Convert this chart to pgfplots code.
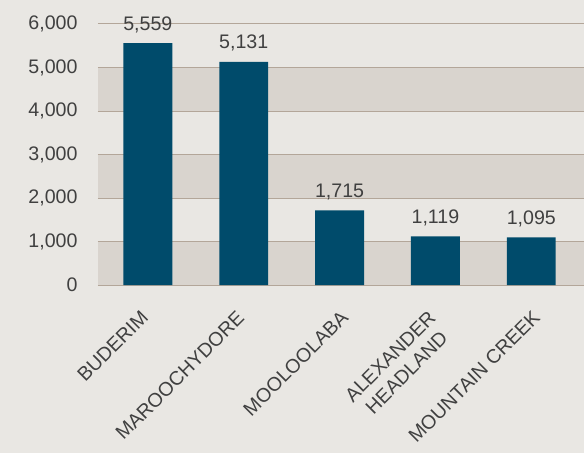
\documentclass[border=0pt]{standalone}
\usepackage{fontspec}
\setmainfont{Liberation Sans}
\usepackage{pgfplots}
\pgfplotsset{compat=1.18}
\usetikzlibrary{backgrounds,calc}
\definecolor{bgc}{HTML}{E9E7E3}
\definecolor{bandc}{HTML}{D9D4CE}
\definecolor{gridc}{HTML}{B3A699}
\definecolor{barc}{HTML}{004B6B}
\definecolor{txtc}{HTML}{404040}
\newcommand\labfont{\fontsize{19.6bp}{23bp}\selectfont}
\begin{document}
\begin{tikzpicture}
\begin{axis}[
    name=ax,
    scale only axis,
    width=486bp, height=261bp,
    xmin=-0.52, xmax=4.55,
    ymin=0, ymax=6000,
    clip=false,
    axis line style={draw=none},
    tick style={draw=none},
    xtick={0,1,3},
    xticklabels={BUDERIM,MAROOCHYDORE,{ALEXANDER\\HEADLAND}},
    extra x ticks={2,4},
    extra x tick labels={MOOLOOLABA,MOUNTAIN CREEK},
    extra x tick style={xticklabel style={xshift=5.7bp, yshift=-5.7bp}},
    ytick={0,1000,2000,3000,4000,5000,6000},
    scaled y ticks=false,
    /pgf/number format/.cd, 1000 sep={,}, assume math mode=true, /pgfplots/.cd,
    ticklabel style={font=\labfont, text=txtc},
    yticklabel style={xshift=-17bp},
    xticklabel style={inner sep=0pt, xshift=-8bp, yshift=-20bp,
        rotate=45, anchor=north east, align=center},
    ybar, bar width=0.51,
]
% alternating bands
\fill[bandc] (axis cs:-0.52,0) rectangle (axis cs:4.55,1000);
\fill[bandc] (axis cs:-0.52,2000) rectangle (axis cs:4.55,3000);
\fill[bandc] (axis cs:-0.52,4000) rectangle (axis cs:4.55,5000);
% gridlines
\pgfplotsinvokeforeach{0,1000,2000,3000,4000,5000,6000}{
  \draw[gridc, line width=1bp] (axis cs:-0.52,#1) -- (axis cs:4.55,#1);
}
\addplot[fill=barc, draw=none,
    nodes near coords,
    nodes near coords style={font=\labfont, text=txtc, yshift=7bp}]
    coordinates {(0,5559) (1,5131) (2,1715) (3,1119) (4,1095)};
\end{axis}
\begin{scope}[on background layer]
\fill[bgc] ($(ax.south west)+(-98bp,-168bp)$) rectangle ($(ax.north east)+(0bp,24bp)$);
\end{scope}
\pgfresetboundingbox
\path[use as bounding box] ($(ax.south west)+(-98bp,-168bp)$) rectangle ($(ax.north east)+(0bp,24bp)$);
\end{tikzpicture}
\end{document}
